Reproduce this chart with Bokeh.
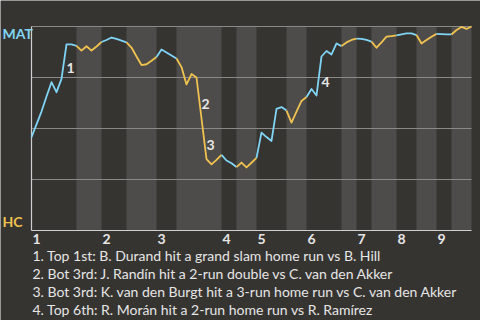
import numpy as np
from bokeh.plotting import figure
from bokeh.models import Range1d
from bokeh.core.properties import value
from bokeh.embed import file_html
from bokeh.resources import INLINE

# ---------------- data ----------------
away_team = "MAT"
home_team = "HC"
inning_labels = ["1", "2", "3", "4", "5", "6", "7", "8", "9"]
# event index where each half inning starts (top 1, bot 1, top 2, ...), last = end of game
half_starts = [0, 9, 14, 19, 25, 29, 38, 41, 45, 51, 55, 62, 65, 68, 73, 77, 81, 84, 88]
# away-team (MAT) win probability after each event
wp = [0.458, 0.520, 0.583, 0.657, 0.727, 0.678, 0.743, 0.912, 0.912, 0.905,
      0.882, 0.903, 0.882, 0.902, 0.924, 0.934, 0.946, 0.939, 0.931, 0.922,
      0.897, 0.853, 0.811, 0.815, 0.832, 0.850, 0.887, 0.873, 0.858, 0.843,
      0.801, 0.716, 0.767, 0.750, 0.549, 0.350, 0.324, 0.346, 0.371, 0.343,
      0.330, 0.311, 0.333, 0.309, 0.332, 0.356, 0.480, 0.458, 0.439, 0.596,
      0.605, 0.588, 0.529, 0.583, 0.635, 0.654, 0.694, 0.662, 0.853, 0.880,
      0.863, 0.917, 0.904, 0.922, 0.934, 0.941, 0.939, 0.934, 0.926, 0.896,
      0.922, 0.950, 0.953, 0.956, 0.961, 0.966, 0.966, 0.958, 0.917, 0.934,
      0.950, 0.964, 0.963, 0.961, 0.961, 0.983, 0.998, 0.988, 1.000]
key_events = [7, 34, 35, 58]
key_labels = ["1", "2", "3", "4"]
key_notes = [
    "1. Top 1st: B. Durand hit a grand slam home run vs B. Hill",
    "2. Bot 3rd: J. Randín hit a 2-run double vs C. van den Akker",
    "3. Bot 3rd: K. van den Burgt hit a 3-run home run vs C. van den Akker",
    "4. Top 6th: R. Morán hit a 2-run home run vs R. Ramírez",
]
grid_levels = [0.25, 0.5, 0.75, 1.0]

# ---------------- style ----------------
BG = "#363431"
BAND = "#4e4c4a"
GRID = "#8a8987"
AXIS = "#cfcfcf"
BLUE = "#80d4f5"
YELLOW = "#f0c24f"
TEXT = "#e6e6e6"
FONT = value("Lato")

n_events = half_starts[-1]
W, H = 480, 320
PX_X = 5.0      # pixels per event
PX_Y = 204.0    # pixels per probability unit
left_px, bottom_px = 31, 90
base_px = H - bottom_px   # screen row of probability 0


def y_at(screen_row):
    """data y for a screen row (pixels from top)"""
    return (base_px - screen_row) / PX_Y


def x_at(screen_col):
    return (screen_col - left_px) / PX_X


p = figure(width=W, height=H, output_backend="svg", toolbar_location=None,
           x_range=Range1d(-left_px / PX_X, (W - left_px) / PX_X),
           y_range=Range1d(-bottom_px / PX_Y, (H - bottom_px) / PX_Y),
           min_border=0)
p.axis.visible = False
p.grid.visible = False
p.outline_line_color = None
p.background_fill_color = BG
p.border_fill_color = BG

# alternating half-inning bands (bottom halves shaded)
b_left = [half_starts[i] for i in range(1, len(half_starts) - 1, 2)]
b_right = [half_starts[i + 1] for i in range(1, len(half_starts) - 1, 2)]
p.quad(left=b_left, right=b_right, bottom=0, top=1, fill_color=BAND, line_color=None)

# grid lines
p.segment(x0=[0] * len(grid_levels), x1=[n_events] * len(grid_levels),
          y0=grid_levels, y1=grid_levels, line_color=GRID, line_width=1)
# axis lines
p.segment(x0=[0, 0], x1=[n_events, 0], y0=[0, 0], y1=[0, 1],
          line_color=AXIS, line_width=1.2)

# win-probability line, coloured by batting team
xs, ys, cols = [], [], []
x_all = np.arange(len(wp))
for i in range(len(half_starts) - 1):
    a, b = half_starts[i], half_starts[i + 1]
    xs.append(list(x_all[a:b + 1]))
    ys.append(wp[a:b + 1])
    cols.append(BLUE if i % 2 == 0 else YELLOW)
p.multi_line(xs=xs, ys=ys, line_color=cols, line_width=1.8, line_join="round")

# key event labels (placed at the middle of the swing)
kx = [k for k in key_events]
ky = [(wp[k - 1] + wp[k]) / 2 - 6 / PX_Y for k in key_events]
p.text(x=kx, y=ky, text=key_labels, text_color=TEXT, text_font=FONT,
       text_font_size="14px", text_font_style="bold", text_align="left",
       text_baseline="middle")

# inning tick labels at start of each top half
tops = half_starts[0:-1:2]
p.text(x=[t + 1 / PX_X for t in tops], y=[y_at(238.5)] * len(tops), text=inning_labels,
       text_color=TEXT, text_font=FONT, text_font_size="14px",
       text_font_style="bold", text_align="left", text_baseline="middle")

# team labels
p.text(x=[x_at(2), x_at(2)], y=[y_at(33), y_at(221)], text=[away_team, home_team],
       text_color=[BLUE, YELLOW], text_font=FONT, text_font_size="14px",
       text_font_style="bold", text_align="left", text_baseline="middle")

# notes
p.text(x=[x_at(32)] * len(key_notes),
       y=[y_at(254.5 + 18 * i) for i in range(len(key_notes))], text=key_notes,
       text_color=TEXT, text_font=FONT, text_font_size="14px",
       text_align="left", text_baseline="middle")

open("out.html", "w").write(file_html(p, INLINE))
